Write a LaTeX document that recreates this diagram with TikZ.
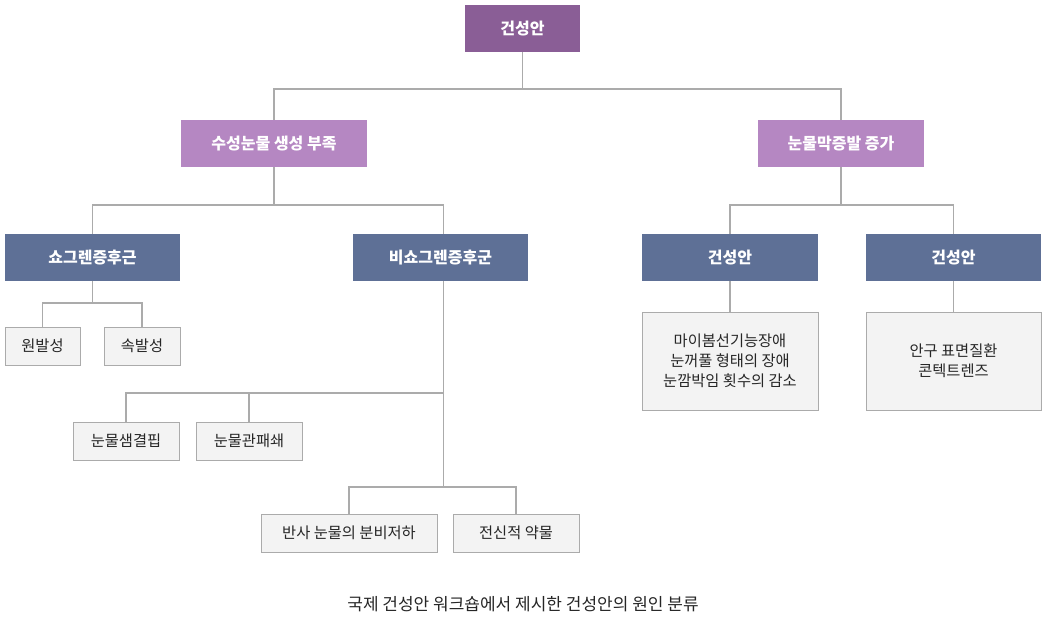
\documentclass[tikz,border=0pt]{standalone}
\usepackage{fontspec}
\setmainfont{Noto Sans CJK KR}
\usetikzlibrary{positioning,calc}
\definecolor{rootpurple}{HTML}{8A5E96}
\definecolor{causepurple}{HTML}{B587C2}
\definecolor{groupblue}{HTML}{5E7096}
\definecolor{itemfill}{HTML}{F3F3F3}
\definecolor{itemline}{HTML}{ABABAB}
\definecolor{textgray}{HTML}{262626}
\tikzset{
    rootbox/.style = {rectangle, fill=rootpurple, text=white,
        minimum width=115pt, minimum height=47pt, font=\fontsize{16}{20}\selectfont\bfseries},
    causebox/.style = {rootbox, fill=causepurple},
    groupbox/.style = {rootbox, fill=groupblue},
    itembox/.style = {rectangle, draw=itemline, line width=1pt, fill=itemfill, text=textgray,
        minimum height=38pt, align=center, font=\fontsize{15.3}{20}\selectfont},
    conn/.style = {draw=itemline, line width=1.1pt},
}

\begin{document}
\begin{tikzpicture}[x=1pt, y=-1pt]
	\useasboundingbox (0,0) rectangle (1046,632);

	% diagram blocks
	\node (root) [rootbox] at (522.5,28.5) {건성안};

	\node (aqueous) [causebox, minimum width=186pt] at (274,143.5) {수성눈물 생성 부족};
	\node (evap) [causebox, minimum width=166pt] at (841,143.5) {눈물막증발 증가};

	\node (sjogren) [groupbox, minimum width=175pt] at (92.5,257.5) {쇼그렌증후근};
	\node (nonsj) [groupbox, minimum width=175pt] at (440.5,257.5) {비쇼그렌증후군};
	\node (dryL) [groupbox, minimum width=176pt] at (730,257.5) {건성안};
	\node (dryR) [groupbox, minimum width=175pt] at (953.5,257.5) {건성안};

	\node (primary) [itembox, minimum width=75pt] at (42.5,346) {원발성};
	\node (secondary) [itembox, minimum width=76pt] at (142,346) {속발성};

	\node (gland) [itembox, minimum width=106pt] at (126,441) {눈물샘결핍};
	\node (duct) [itembox, minimum width=106pt] at (249,441) {눈물관패쇄};

	\node (reflex) [itembox, minimum width=176pt] at (349,533) {반사 눈물의 분비저하};
	\node (drug) [itembox, minimum width=126pt] at (516,533) {전신적 약물};

	\node (meibom) [itembox, minimum width=176pt, minimum height=98pt] at (730,361) {마이봄선기능장애\\눈꺼풀 형태의 장애\\눈깜박임 횟수의 감소};
	\node (surface) [itembox, minimum width=175pt, minimum height=98pt] at (953.5,361) {안구 표면질환\\콘텍트렌즈};

	\node (caption) [text=textgray, font=\fontsize{17}{20}\selectfont] at (523,604) {국제 건성안 워크숍에서 제시한 건성안의 원인 분류};

	% bus levels
	\coordinate (b1) at (0,89);
	\coordinate (b2) at (0,205);
	\coordinate (b3) at (0,303);
	\coordinate (b4) at (0,393);
	\coordinate (b5) at (0,487);

	% tree edges
	\draw [conn] (root.south) -- (root.south |- b1);
	\draw [conn] (aqueous.north) |- (root.south |- b1) -| (evap.north);

	\draw [conn] (aqueous.south) -- (aqueous.south |- b2);
	\draw [conn] (sjogren.north) |- (aqueous.south |- b2) -| ([xshift=3pt]nonsj.north);
	\draw [conn] (evap.south) -- (evap.south |- b2);
	\draw [conn] (dryL.north) |- (evap.south |- b2) -| (dryR.north);

	\draw [conn] (sjogren.south) -- (sjogren.south |- b3);
	\draw [conn] (primary.north) |- (sjogren.south |- b3) -| (secondary.north);

	\draw [conn] ([xshift=3pt]nonsj.south) -- ([xshift=3pt]nonsj.south |- b5);
	\draw [conn] (gland.north) |- ([xshift=3pt]nonsj.south |- b4);
	\draw [conn] (duct.north) -- (duct.north |- b4);
	\draw [conn] (reflex.north) |- ([xshift=3pt]nonsj.south |- b5) -| (drug.north);

	\draw [conn] (dryL) -- (meibom);
	\draw [conn] (dryR) -- (surface);

\end{tikzpicture}
\end{document}
